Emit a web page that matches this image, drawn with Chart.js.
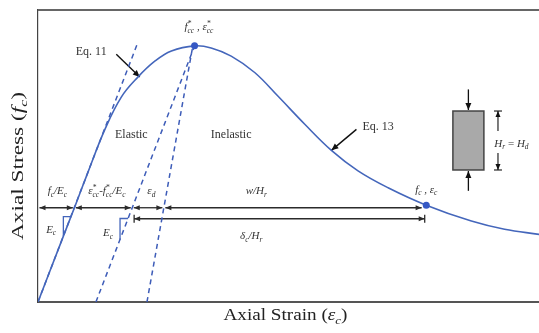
<!DOCTYPE html>
<html>
<head>
<meta charset="utf-8">
<script src="https://cdn.jsdelivr.net/npm/chart.js@4.4.0/dist/chart.umd.min.js"></script>
<style>
  body { margin: 0; background: #fff; }
  #wrap { width: 539px; height: 333px; }
</style>
</head>
<body>
<div id="wrap"><canvas id="chart"></canvas></div>
<script>
// stress-strain curve (strain in per mille, stress in MPa)
const strain = [0, 0.7, 1.2, 1.6, 2.13, 2.66, 3.19, 3.73, 4.26, 5.0, 5.53, 6.17, 6.92, 7.66, 8.52, 9.37, 10.22, 11.18, 12.4, 13.84, 14.9, 16.0];
const stress = [0, 11.1, 19.0, 25.4, 33.6, 40.0, 43.9, 47.0, 49.0, 50.0, 49.6, 48.0, 44.8, 40.2, 34.7, 29.6, 25.6, 22.3, 18.9, 15.8, 14.2, 13.2];

// dashed lines: initial tangent, elastic unloading, inelastic unloading
const tangentX = [0, 3.16];
const tangentY = [0, 50.2];
const unloadX = [1.85, 5.0];
const unloadY = [0, 50.0];
const plasticX = [3.48, 4.93];
const plasticY = [0, 49.5];

// peak point (f*cc, e*cc) and the point (fc, ec)
const keyX = [5.0, 12.4];
const keyY = [50.0, 18.9];

// strain steps marked under the curve
const stepLevel = 18.4;
const stepBreaks = [0, 1.16, 3.01, 4.02, 12.3];
const deltaLevel = 16.25;
const deltaRange = [3.07, 12.35];

const toPoints = (xs, ys) => xs.map((x, i) => ({ x: x, y: ys[i] }));

const BLUE = "#4466bb";
const DASH = "#3d5cb8";
const INK = "#2b2b2b";
const SERIF = "'Liberation Serif', 'Times New Roman', serif";

// text with italic / subscript / superscript parts
// kinds: n upright, i italic, b italic subscript, p italic superscript
function rich(ctx, parts, x, y, size, opt) {
  opt = opt || {};
  const fontOf = k => (k === "n" ? "" : "italic ") + ((k === "b" || k === "p") ? size * 0.68 : size) + "px " + SERIF;
  const items = [];
  let cur = 0, supStart = null, supW = 0;
  parts.forEach(([t, k]) => {
    ctx.font = fontOf(k);
    const w = ctx.measureText(t).width;
    if (k === "b" && supStart !== null) {
      items.push({ t, k, x: supStart });
      cur = supStart + Math.max(w, supW);
      supStart = null;
      return;
    }
    if (k === "p") { supStart = cur; supW = w; } else supStart = null;
    items.push({ t, k, x: cur });
    cur += w;
  });
  const sx = opt.width ? opt.width / cur : 1;
  ctx.save();
  ctx.translate(x, y);
  if (opt.rot) ctx.rotate(opt.rot);
  ctx.scale(sx, 1);
  ctx.fillStyle = opt.color || "#333";
  ctx.textBaseline = "alphabetic";
  const x0 = -cur / 2;
  const base = size * 0.32;
  items.forEach(it => {
    ctx.font = fontOf(it.k);
    let dy = 0;
    if (it.k === "b") dy = size * 0.22;
    if (it.k === "p") dy = -size * 0.38;
    ctx.fillText(it.t, x0 + it.x, base + dy);
  });
  ctx.restore();
}

function head(ctx, x, y, a, len, half) {
  len = len || 6; half = half || 2.6;
  const c = Math.cos(a), s = Math.sin(a);
  ctx.beginPath();
  ctx.moveTo(x, y);
  ctx.lineTo(x - len * c - half * s, y - len * s + half * c);
  ctx.lineTo(x - len * c + half * s, y - len * s - half * c);
  ctx.closePath();
  ctx.fill();
}

function line(ctx, pts) {
  ctx.beginPath();
  pts.forEach((p, i) => i ? ctx.lineTo(p[0], p[1]) : ctx.moveTo(p[0], p[1]));
  ctx.stroke();
}

const annotations = {
  id: "annotations",
  beforeDatasetsDraw(chart) {
    const ctx = chart.ctx;
    const area = chart.chartArea;
    const X = v => chart.scales.x.getPixelForValue(v);
    const Y = v => chart.scales.y.getPixelForValue(v);

    ctx.save();
    // top frame line
    ctx.strokeStyle = "#666";
    ctx.lineWidth = 2;
    line(ctx, [[area.left, area.top], [area.right, area.top]]);

    // strain steps
    ctx.strokeStyle = INK;
    ctx.fillStyle = INK;
    ctx.lineWidth = 1.3;
    const ys = Y(stepLevel);
    for (let i = 0; i < stepBreaks.length - 1; i++) {
      const a = X(stepBreaks[i]) + 1.5, b = X(stepBreaks[i + 1]) - 1.5;
      line(ctx, [[a, ys], [b, ys]]);
      head(ctx, a, ys, Math.PI);
      head(ctx, b, ys, 0);
    }
    const yd = Y(deltaLevel);
    const d0 = X(deltaRange[0]), d1 = X(deltaRange[1]);
    line(ctx, [[d0, yd], [d1, yd]]);
    head(ctx, d0, yd, Math.PI);
    head(ctx, d1, yd, 0);
    line(ctx, [[d0, yd - 4], [d0, yd + 4]]);
    line(ctx, [[d1, yd - 4], [d1, yd + 4]]);

    // slope triangles
    ctx.strokeStyle = BLUE;
    ctx.lineWidth = 1.3;
    const k1 = tangentY[1] / tangentX[1];
    const t1x = 0.81, t1y = 16.65;
    line(ctx, [[X(t1y / k1), Y(t1y)], [X(t1x), Y(t1y)], [X(t1x), Y(t1x * k1)]]);
    const k2 = unloadY[1] / (unloadX[1] - unloadX[0]);
    const t2x = 2.62, t2y = 16.3;
    line(ctx, [[X(unloadX[0] + t2y / k2), Y(t2y)], [X(t2x), Y(t2y)], [X(t2x), Y((t2x - unloadX[0]) * k2)]]);

    // equation pointers
    ctx.strokeStyle = "#111";
    ctx.fillStyle = "#111";
    ctx.lineWidth = 1.4;
    [[2.5, 48.35, 3.25, 43.9], [10.17, 33.7, 9.37, 29.6]].forEach(([ax, ay, bx, by]) => {
      const p = [X(ax), Y(ay)], q = [X(bx), Y(by)];
      line(ctx, [p, q]);
      head(ctx, q[0], q[1], Math.atan2(q[1] - p[1], q[0] - p[0]), 7, 3);
    });

    // specimen sketch
    const sx0 = X(13.25), sx1 = X(14.24), syT = Y(37.28), syB = Y(25.77);
    const cx = (sx0 + sx1) / 2;
    ctx.fillStyle = "#a9a9a9";
    ctx.fillRect(sx0, syT, sx1 - sx0, syB - syT);
    ctx.strokeStyle = "#444";
    ctx.lineWidth = 1.5;
    ctx.strokeRect(sx0, syT, sx1 - sx0, syB - syT);
    ctx.strokeStyle = "#111";
    ctx.fillStyle = "#111";
    ctx.lineWidth = 1.3;
    line(ctx, [[cx, Y(41.5)], [cx, syT - 1]]);
    head(ctx, cx, syT - 1, Math.PI / 2, 7, 3);
    line(ctx, [[cx, Y(21.7)], [cx, syB + 1]]);
    head(ctx, cx, syB + 1, -Math.PI / 2, 7, 3);
    const hx = X(14.69);
    ctx.lineWidth = 1.1;
    line(ctx, [[hx, syT], [hx, syT + 20]]);
    line(ctx, [[hx, syB - 17], [hx, syB]]);
    line(ctx, [[hx - 4, syT], [hx + 4, syT]]);
    line(ctx, [[hx - 4, syB], [hx + 4, syB]]);
    head(ctx, hx, syT, -Math.PI / 2, 6, 2.5);
    head(ctx, hx, syB, Math.PI / 2, 6, 2.5);

    // labels
    ctx.fillStyle = "#333";
    [["Eq. 11", 1.70, 49.0], ["Eq. 13", 10.86, 34.35], ["Elastic", 2.98, 32.73], ["Inelastic", 6.17, 32.73]]
      .forEach(([t, x, y]) => rich(ctx, [[t, "n"]], X(x), Y(y), 12));
    const Ec = [["E", "i"], ["c", "b"]];
    [
      [[["f", "i"], ["c", "b"], ["/E", "i"], ["c", "b"]], 0.62, 21.7],
      [[["ε", "i"], ["*", "p"], ["cc", "b"], ["-f", "i"], ["*", "p"], ["cc", "b"], ["/E", "i"], ["c", "b"]], 2.2, 21.7],
      [[["ε", "i"], ["d", "b"]], 3.62, 21.7],
      [[["w/H", "i"], ["r", "b"]], 6.97, 21.7],
      [[["δ", "i"], ["c", "b"], ["/H", "i"], ["r", "b"]], 6.81, 12.9],
      [Ec, 0.42, 14.2],
      [Ec, 2.24, 13.5],
      [[["f", "i"], ["c", "b"], [" , ", "i"], ["ε", "i"], ["c", "b"]], 12.4, 22.0],
      [[["f", "i"], ["*", "p"], ["cc", "b"], [" , ", "i"], ["ε", "i"], ["*", "p"], ["cc", "b"]], 5.14, 53.7],
      [[["H", "i"], ["r", "b"], [" = ", "n"], ["H", "i"], ["d", "b"]], 15.12, 31.0]
    ].forEach(([parts, x, y]) => rich(ctx, parts, X(x), Y(y), 11));

    // axis titles
    rich(ctx, [["Axial Strain (", "n"], ["ε", "i"], ["c", "b"], [")", "n"]],
      (area.left + area.right) / 2 - 3, area.bottom + 13, 16, { width: 124, color: "#222" });
    rich(ctx, [["Axial Stress (", "n"], ["f", "i"], ["c", "b"], [")", "n"]],
      18, 166, 16, { width: 148, rot: -Math.PI / 2, color: "#222" });
    ctx.restore();
  }
};

new Chart(document.getElementById("chart"), {
  type: "scatter",
  data: {
    datasets: [
      {
        data: toPoints(strain, stress),
        showLine: true,
        borderColor: BLUE,
        borderWidth: 1.6,
        pointRadius: 0,
        tension: 0.4,
        order: 2
      },
      {
        data: toPoints(tangentX, tangentY),
        showLine: true, borderColor: DASH, borderWidth: 1.5, borderDash: [5, 4], pointRadius: 0, order: 3
      },
      {
        data: toPoints(unloadX, unloadY),
        showLine: true, borderColor: DASH, borderWidth: 1.5, borderDash: [5, 4], pointRadius: 0, order: 3
      },
      {
        data: toPoints(plasticX, plasticY),
        showLine: true, borderColor: DASH, borderWidth: 1.5, borderDash: [5, 4], pointRadius: 0, order: 3
      },
      {
        data: toPoints(keyX, keyY),
        pointRadius: 3.5,
        pointBackgroundColor: "#3558c4",
        pointBorderWidth: 0,
        order: 1
      }
    ]
  },
  options: {
    responsive: true,
    maintainAspectRatio: false,
    animation: false,
    layout: { autoPadding: false, padding: { left: 38, top: 10, right: 0, bottom: 31 } },
    plugins: { legend: { display: false }, tooltip: { enabled: false } },
    scales: {
      x: {
        type: "linear", min: 0, max: 16,
        ticks: { display: false },
        grid: { display: false, drawTicks: false },
        border: { color: "#555", width: 2 }
      },
      y: {
        min: 0, max: 57,
        ticks: { display: false },
        grid: { display: false, drawTicks: false },
        border: { color: "#444", width: 1.2 }
      }
    }
  },
  plugins: [annotations]
});
</script>
</body>
</html>
